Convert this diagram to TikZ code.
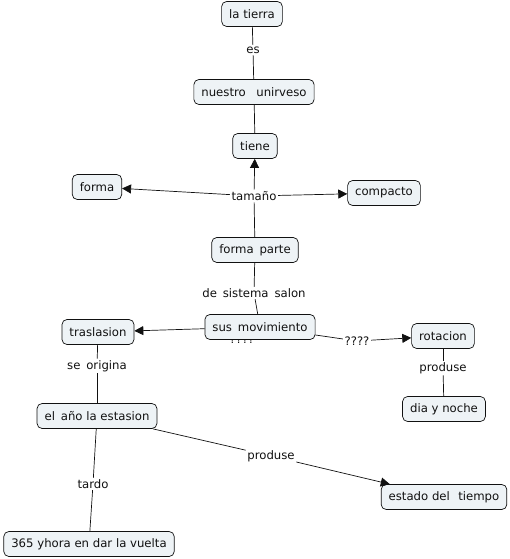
\documentclass[tikz,border=0pt]{standalone}
\usepackage{fontspec}
\setmainfont{DejaVu Sans}
\usetikzlibrary{arrows.meta}
\definecolor{ink}{HTML}{111111}
\definecolor{conceptfill}{HTML}{EEF3F6}
\tikzset{
  figbase/.style={
    x=1pt, y=-1pt,
    font=\fontsize{11.7}{13}\selectfont,
    color=ink,
    line join=round,
  },
  arr/.style={-{Triangle[length=9pt,width=9pt]}, line width=0.7pt, draw=ink},
  link/.style={line width=0.7pt, draw=ink},
  concept/.style={
    draw=ink, line width=0.7pt,
    rounded corners=5pt,
    fill=conceptfill,
    inner xsep=7.5pt, inner ysep=0pt,
    minimum height=25pt,
    text=ink,
  },
  lab/.style={fill=white, inner sep=1.5pt, text=ink},
}
\begin{document}
\begin{tikzpicture}[figbase]
  \useasboundingbox (0,0) rectangle (510,559);

  % hidden phrase under the movement node
  \node[lab, fill=none] (hid) at (242,339) {????};

  % concepts
  \node[concept] (tierra)   at (252,14)  {la tierra};
  \node[concept] (universo) at (254,92)  {nuestro\hspace{0.9em}unirveso};
  \node[concept] (tiene)    at (255,146) {tiene};
  \node[concept] (forma)    at (97,187)  {forma};
  \node[concept] (compacto) at (384,193) {compacto};
  \node[concept] (parte)    at (255,250) {forma\hspace{0.5em}parte};
  \node[concept] (mov)      at (260,327) {sus\hspace{0.5em}movimiento};
  \node[concept] (tras)     at (98,332)  {traslasion};
  \node[concept] (rot)      at (443,336) {rotacion};
  \node[concept] (dia)      at (444,409) {dia y noche};
  \node[concept] (anio)     at (97,416)  {el\hspace{0.5em}año la estasion};
  \node[concept] (estado)   at (444,497) {estado del\hspace{0.4em} tiempo};
  \node[concept] (vuelta)   at (89,544)  {365 yhora en dar la vuelta};

  % linking phrases
  \node[lab] (es)      at (253,50)  {es};
  \node[lab] (tamano)  at (254,196) {tamaño};
  \node[lab] (sistema) at (254,293) {de\hspace{0.5em}sistema\hspace{0.5em}salon};
  \node[lab] (preg)    at (357,341) {????};
  \node[lab] (prodA)   at (443,368) {produse};
  \node[lab] (origina) at (97,366)  {se\hspace{0.5em}origina};
  \node[lab] (prodB)   at (271,456) {produse};
  \node[lab] (tardo)   at (93,484)  {tardo};

  % connectors
  \draw[link] (tierra) -- (es);
  \draw[link] (es) -- (universo);
  \draw[link] (universo) -- (tiene);
  \draw[link] (parte) -- (tamano);
  \draw[arr] (tamano) -- (tiene);
  \draw[arr] (tamano) -- (forma);
  \draw[arr] (tamano) -- (compacto);
  \draw[link] (parte) -- (sistema);
  \draw[link] (sistema) -- (mov);
  \draw[arr] (mov) -- (tras);
  \draw[link] (mov) -- (preg);
  \draw[arr] (preg) -- (rot);
  \draw[link] (rot) -- (prodA);
  \draw[link] (prodA) -- (dia);
  \draw[link] (tras) -- (origina);
  \draw[link] (origina) -- (anio);
  \draw[link] (anio) -- (prodB);
  \draw[arr] (prodB) -- (estado);
  \draw[link] (anio) -- (tardo);
  \draw[link] (tardo) -- (vuelta);
\end{tikzpicture}
\end{document}
